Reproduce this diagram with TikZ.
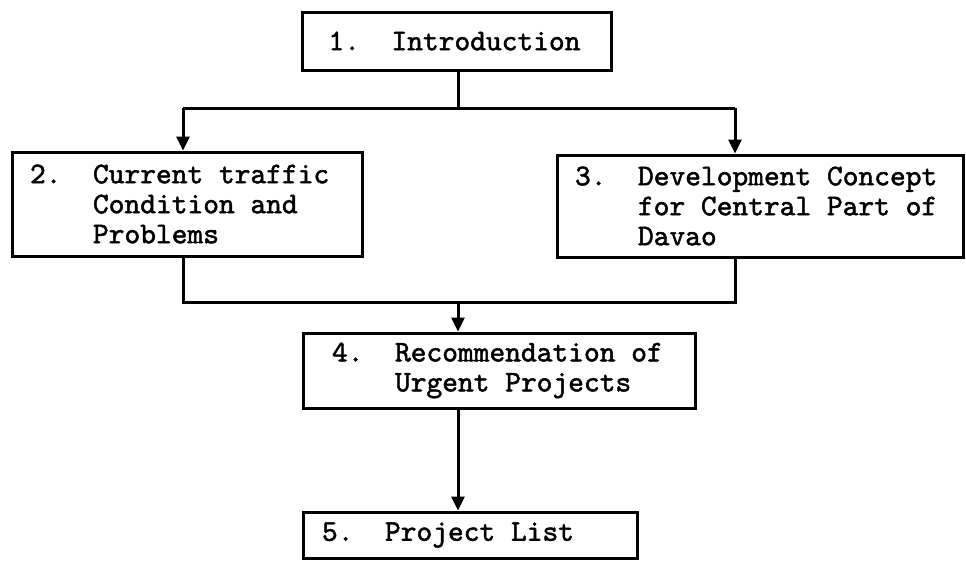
\documentclass[tikz,border=0pt]{standalone}
\usepackage{fontspec}
\newfontfamily\typer[FakeBold=1.6]{lmmono10-regular.otf}
\usepackage{tikz}
\usetikzlibrary{arrows.meta}
\newcommand{\typeface}{\typer\fontsize{30}{30}\selectfont}
\newcommand{\stepno}[1]{\spaceskip=0.525em\relax\makebox[2.1em][l]{#1}}
\newcommand{\cont}{\hspace*{2.1em}}

\begin{document}
\begin{tikzpicture}[
    x=1pt, y=-1pt,
    stagebox/.style={draw, line width=3pt, align=left, inner ysep=0pt, font=\typeface},
    flow/.style={line width=3pt},
    flowarrow/.style={flow, -{Triangle[length=14pt, width=13pt]}},
]
  \useasboundingbox (0,0) rectangle (966,570);

  \node[stagebox, text width=256pt, inner xsep=26.5pt, minimum height=58pt] (intro) at (456.5,41) {
    \stepno{1.}Introduction
  };
  \node[stagebox, text width=314pt, inner xsep=18pt, minimum height=104pt] (traffic) at (187,204) {
    \stepno{2.}Current traffic \\
    \cont Condition and \\
    \cont Problems
  };
  \node[stagebox, text width=370pt, inner xsep=18pt, minimum height=102pt] (concept) at (760,206) {
    \stepno{3.}Development Concept \\
    \cont for Central Part of \\
    \cont Davao
  };
  \node[stagebox, text width=334pt, inner xsep=29pt, minimum height=75pt] (urgent) at (499,370.5) {
    \stepno{4.}Recommendation of \\
    \cont Urgent Projects
  };
  \node[stagebox, text width=296pt, inner xsep=19pt, minimum height=46pt] (list) at (470,535) {
    \stepno{5.}Project List
  };

  \coordinate (splitL) at (183,108);
  \coordinate (splitR) at (735,108);
  \coordinate (joinL) at (183,302);
  \coordinate (joinR) at (735,302);
  \coordinate (merge) at (458,302);

  \draw[flow] (intro.south -| merge) -- (merge |- splitL);
  \draw[flow] (splitL) -- (splitR);
  \draw[flowarrow] (splitL) -- (splitL |- traffic.north);
  \draw[flowarrow] (splitR) -- (splitR |- concept.north);

  \draw[flow] (joinL |- traffic.south) -- (joinL) -- (joinR) -- (joinR |- concept.south);
  \draw[flowarrow] (merge) -- (merge |- urgent.north);
  \draw[flowarrow] (merge |- urgent.south) -- (merge |- list.north);
\end{tikzpicture}
\end{document}
